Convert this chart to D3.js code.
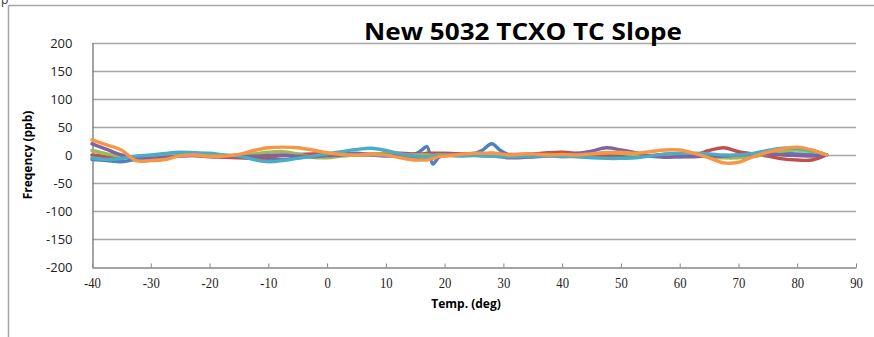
<!DOCTYPE html>
<html>
<head>
<meta charset="utf-8">
<script src="https://d3js.org/d3.v7.min.js"></script>
<style>
  body { margin: 0; background: #fff; }
</style>
</head>
<body>
<div id="my_dataviz"></div>
<script>

// temperatures (deg), shared by every series
var temps = [-40, -37.5, -35, -32.5, -30, -27.5, -25, -22.5, -20, -17.5, -15, -12.5, -10, -7.5, -5, -2.5,
  0, 2.5, 5, 7.5, 10, 12.5, 15, 16, 17, 18, 19, 20, 22.5, 25, 26.5, 28, 29.5, 31, 32.5, 35, 37.5,
  40, 42.5, 45, 47.5, 50, 52.5, 55, 57.5, 60, 62.5, 65, 67.5, 70, 72.5, 75, 77.5, 80, 82.5, 85]

// frequency deviation (ppb) per unit
var unit1 = [-8, -10, -12, -8, -5, -3, 0, 2, 0, -3, -2, -5, -8, -8, -5, -2,
  0, 2, 3, 0, -2, 0, 2, 8, 15, -16, -4, 0, 2, 3, 9, 20, 8, 0, -2, -3, -2,
  0, 2, 0, -2, -4, -3, -2, 0, -3, -2, 0, -3, -2, 0, 2, 3, 2, 1, 0]
var unit2 = [0, -3, -5, -4, -2, 0, 1, -1, -3, -4, -5, -6, -4, -1, 1, 2,
  2, 1, 0, 1, 3, 3, 2, 2, 3, 3, 3, 3, 2, 2, 2, 3, 2, 1, 1, 2, 4,
  5, 3, 1, 0, 1, 0, -1, 1, 0, 0, 8, 13, 6, 2, -2, -7, -9, -9, 0]
var unit3 = [8, 2, -2, -3, -2, 0, 2, 0, -2, -1, 0, 2, 5, 6, 2, -4,
  -5, -2, 0, 2, 2, 1, 0, 0, 0, -1, 0, 0, 0, 1, 0, 0, 0, -1, 0, 0, 1,
  0, 1, 2, 4, 3, 0, -2, -1, 0, -2, -3, -5, -5, -3, 2, 7, 9, 6, 0]
var unit4 = [20, 10, 0, -5, -6, -4, -2, -1, 0, -2, -3, -2, -1, 0, -2, -3,
  -1, 0, 2, 1, 0, -2, -4, -5, -5, -4, -3, -1, 0, 0, -1, -2, -3, -5, -5, -3, -1,
  1, 3, 7, 13, 9, 4, -2, -4, -3, -3, -2, -2, 0, 1, 2, 0, -1, -2, 0]
var unit5 = [-5, -8, -6, -2, 0, 3, 5, 4, 3, 0, -2, -8, -12, -10, -6, -2,
  2, 6, 10, 12, 8, 2, -2, -3, -3, -2, -1, 0, -2, -1, -2, -2, -3, -3, -3, -2, -2,
  -3, -3, -5, -6, -6, -5, -2, 2, 3, 3, 2, 0, 0, 3, 8, 12, 12, 8, 0]
var unit6 = [27, 18, 9, -10, -10, -8, -1, 0, -2, -2, 1, 8, 13, 14, 13, 9,
  4, 1, 0, 1, 0, -5, -9, -9, -9, -6, -3, -2, 1, 3, 3, 3, 2, 0, 1, 2, 0,
  1, 0, 2, 4, 5, 3, 6, 9, 9, 3, -5, -14, -13, -3, 5, 11, 14, 9, 0]

var series = [unit1, unit2, unit3, unit4, unit5, unit6]
var colors = ["#4F81BD", "#C0504D", "#9BBB59", "#8064A2", "#4BACC6", "#F79646"]

var xTicks = [-40, -30, -20, -10, 0, 10, 20, 30, 40, 50, 60, 70, 80, 90]
var yTicks = [-200, -150, -100, -50, 0, 50, 100, 150, 200]

var width = 874, height = 337

var svg = d3.select("#my_dataviz")
  .append("svg")
    .attr("width", width)
    .attr("height", height)

// chart frame (only top and left edges show)
svg.append("line").attr("x1", 8.5).attr("x2", width).attr("y1", 5.5).attr("y2", 5.5)
  .attr("stroke", "#a6a6a6").attr("stroke-width", 1.5)
svg.append("line").attr("x1", 8.5).attr("x2", 8.5).attr("y1", 5.5).attr("y2", height)
  .attr("stroke", "#a6a6a6").attr("stroke-width", 1.5)
svg.append("text").attr("x", 1).attr("y", 4).text("p")
  .style("font-family", "Open Sans").style("font-size", "12px").attr("fill", "#333")

var x = d3.scaleLinear().domain([-40, 90]).range([92, 856])
var y = d3.scaleLinear().domain([-200, 200]).range([267, 43])

// gridlines
svg.append("g")
  .selectAll("line")
  .data(yTicks.filter(function(d) { return d != -200 }))
  .enter().append("line")
    .attr("x1", x(-40)).attr("x2", x(90))
    .attr("y1", function(d) { return Math.round(y(d)) + 0.5 })
    .attr("y2", function(d) { return Math.round(y(d)) + 0.5 })
    .attr("stroke", "#a6a6a6").attr("stroke-width", 1.3)

// X axis, ticks pointing inside
var xAxis = svg.append("g")
  .attr("transform", "translate(0," + (Math.round(y(-200)) + 0.5) + ")")
  .call(d3.axisBottom(x).tickValues(xTicks).tickFormat(function(d) { return String(d) })
    .tickSize(-4).tickSizeOuter(0).tickPadding(10))
xAxis.select(".domain").attr("stroke", "#868686").attr("stroke-width", 1.5)
xAxis.selectAll(".tick line").attr("stroke", "#868686")
xAxis.selectAll("text")
  .style("font-family", "Liberation Serif").style("font-size", "15.5px").attr("fill", "#222")
  .attr("transform", "scale(0.82,1)")

// Y axis, labels only
var yAxis = svg.append("g")
  .attr("transform", "translate(" + (x(-40) + 0.5) + ",0)")
  .call(d3.axisLeft(y).tickValues(yTicks).tickFormat(function(d) { return String(d) })
    .tickSize(0).tickSizeOuter(0).tickPadding(20))
yAxis.select(".domain").attr("stroke", "#868686").attr("stroke-width", 1.5)
yAxis.selectAll("text")
  .style("font-family", "Open Sans").style("font-size", "13px").attr("fill", "#222")

// lines
var line = d3.line()
  .x(function(d) { return x(d[0]) })
  .y(function(d) { return y(d[1]) })
  .curve(d3.curveCatmullRom)

svg.append("g")
  .selectAll("path")
  .data(series)
  .enter().append("path")
    .attr("d", function(s) { return line(temps.map(function(t, i) { return [t, s[i]] })) })
    .attr("fill", "none")
    .attr("stroke", function(s, i) { return colors[i] })
    .attr("stroke-width", 3.4)
    .attr("stroke-linejoin", "round")
    .attr("stroke-linecap", "round")

// titles
svg.append("text").attr("x", 523).attr("y", 40).text("New 5032 TCXO TC Slope")
  .attr("text-anchor", "middle").attr("textLength", 318).attr("lengthAdjust", "spacingAndGlyphs")
  .style("font-family", "Open Sans").style("font-size", "23px").style("font-weight", "bold")
svg.append("text").attr("x", 466).attr("y", 308).text("Temp. (deg)")
  .attr("text-anchor", "middle")
  .style("font-family", "Open Sans").style("font-size", "12px").style("font-weight", "bold")
svg.append("text").attr("transform", "translate(32,155) rotate(-90)").text("Freqency (ppb)")
  .attr("text-anchor", "middle")
  .style("font-family", "Open Sans").style("font-size", "12px").style("font-weight", "bold")

</script>
</body>
</html>
